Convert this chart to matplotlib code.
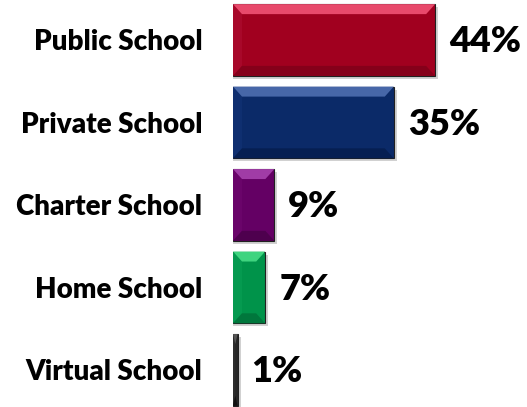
import matplotlib.pyplot as plt
from matplotlib.patches import Polygon

categories = ['Public School', 'Private School', 'Charter School', 'Home School', 'Virtual School']
shares = [44, 35, 9, 7, 1]
face_colors = ['#a1001f', '#0b2a68', '#640064', '#00934a', '#262626']
light_colors = ['#e8496b', '#4767a8', '#a03ca6', '#3fd47f', '#555555']
side_colors = ['#a8082a', '#0f2f70', '#6a046a', '#059a50', '#2c2c2c']
dark_colors = ['#85001a', '#061f52', '#4e004e', '#00773c', '#111111']

plt.rcParams['font.family'] = ['Lato', 'DejaVu Sans']

fig = plt.figure(figsize=(5.27, 4.07), dpi=100)
ax = fig.add_axes([233 / 527, 0, 294 / 527, 1])

px_x = 64 / 294.0      # data units per pixel, horizontal
px_y = 1 / 82.5        # data units per pixel, vertical
height = 0.87
ypos = list(range(len(categories)))

# drop shadow
ax.barh([y + 3 * px_y for y in ypos], [v + 3 * px_x for v in shares], height=height,
        color='#9a9a9a', alpha=0.45, zorder=1)

bars = ax.barh(ypos, shares, height=height, color=face_colors,
               edgecolor='#202020', linewidth=0.8, zorder=2)

# bevel: light top edge, lighter left side, darker bottom edge
for bar, lc, sc, dc in zip(bars, light_colors, side_colors, dark_colors):
    x0, y0 = bar.get_x(), bar.get_y()
    w, h = bar.get_width(), bar.get_height()
    bx = min(9 * px_x, w / 2)
    by = 10 * px_y
    top = Polygon([(x0, y0), (x0 + w, y0), (x0 + w - bx, y0 + by), (x0 + bx, y0 + by)],
                  closed=True, facecolor=lc, edgecolor='none', zorder=3)
    bot = Polygon([(x0, y0 + h), (x0 + w, y0 + h), (x0 + w - bx, y0 + h - by), (x0 + bx, y0 + h - by)],
                  closed=True, facecolor=dc, edgecolor='none', zorder=3)
    left = Polygon([(x0, y0), (x0 + bx, y0 + by), (x0 + bx, y0 + h - by), (x0, y0 + h)],
                   closed=True, facecolor=sc, edgecolor='none', zorder=3)
    ax.add_patch(left)
    ax.add_patch(top)
    ax.add_patch(bot)
    ax.text(x0 + w + 14 * px_x, y0 + h / 2 + 2 * px_y, '%d%%' % bar.get_width(),
            ha='left', va='center', fontsize=26, fontweight='heavy', color='black')

ax.set_xlim(0, 64)
ax.set_ylim(4.45, -0.485)
ax.set_yticks(ypos)
ax.set_yticklabels(categories, fontsize=20, fontweight='heavy')
ax.tick_params(axis='y', length=0, pad=22)
ax.set_xticks([])
for s in ax.spines.values():
    s.set_visible(False)

plt.savefig('out.png', dpi=100)
